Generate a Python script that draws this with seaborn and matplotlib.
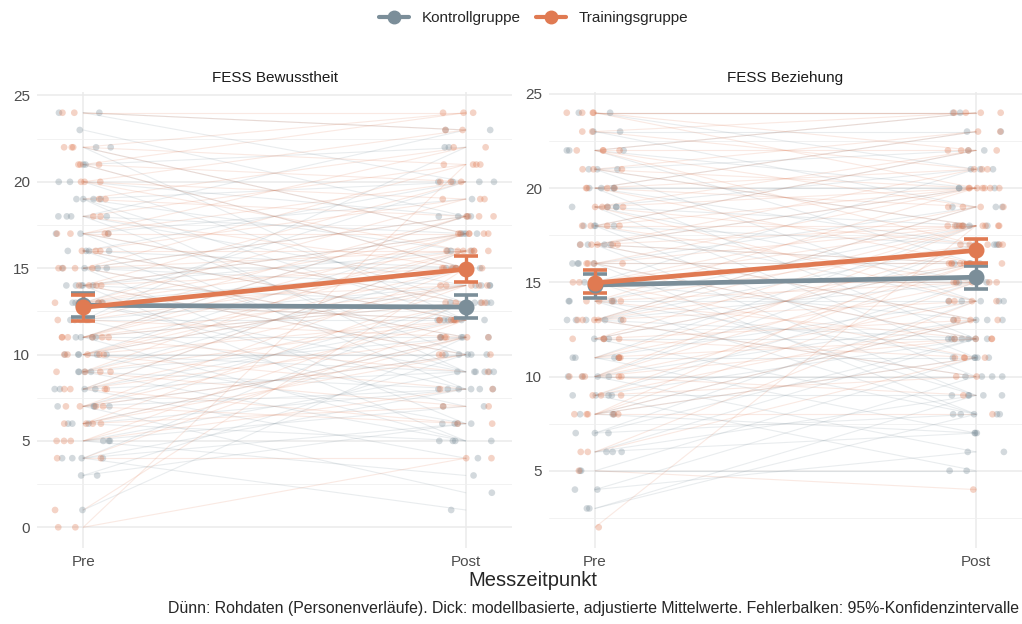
import numpy as np
import pandas as pd
import matplotlib
matplotlib.use('Agg')
from matplotlib import pyplot as plt
from matplotlib.lines import Line2D
from matplotlib.ticker import MultipleLocator
import seaborn as sns

sns.set_theme(style='white')
plt.rcParams['font.family'] = ['Liberation Sans', 'DejaVu Sans']

# Farben
col_kon = '#7B8E99'
col_tra = '#E07A52'
groups = ['Kontrollgruppe', 'Trainingsgruppe']
times = ['Pre', 'Post']

# Rohdaten FESS Bewusstheit (geschaetzt aus der Grafik)
bew_kon_pre = [24, 24, 23, 22, 22, 21, 21, 20, 20, 19, 19, 19, 19, 18, 18, 18, 18, 17, 17, 17,
               16, 16, 16, 16, 15, 15, 15, 15, 14, 14, 14, 14, 14, 13, 13, 13, 13, 13, 12, 12,
               12, 12, 11, 11, 11, 11, 10, 10, 10, 10, 10, 9, 9, 9, 9, 8, 8, 8, 8, 7,
               7, 7, 7, 6, 6, 6, 5, 5, 5, 4, 4, 4, 4, 3, 3, 1]
bew_kon_post = [23, 20, 18, 17, 12, 22, 15, 18, 13, 20, 16, 12, 9, 23, 17, 14, 10, 19, 13, 8,
                20, 15, 12, 9, 18, 14, 11, 6, 17, 16, 13, 10, 5, 20, 15, 12, 9, 8, 22, 14,
                12, 7, 18, 13, 11, 5, 17, 14, 10, 9, 6, 15, 11, 8, 5, 16, 12, 9, 4, 13,
                10, 8, 2, 11, 8, 5, 9, 7, 3, 13, 8, 6, 1, 10, 6, 11]
bew_tra_pre = [24, 24, 22, 22, 22, 21, 21, 21, 20, 20, 20, 19, 19, 18, 18, 17, 17, 17, 17, 16,
               16, 16, 15, 15, 15, 15, 14, 14, 14, 14, 13, 13, 13, 13, 13, 12, 12, 12, 11, 11,
               11, 11, 11, 11, 10, 10, 10, 10, 10, 9, 9, 9, 9, 8, 8, 8, 8, 7, 7, 7,
               7, 6, 6, 6, 6, 5, 5, 5, 4, 4, 1, 0, 0]
bew_tra_post = [24, 23, 24, 21, 17, 24, 20, 15, 23, 19, 16, 22, 18, 21, 15, 22, 20, 17, 13, 19,
                16, 12, 21, 18, 16, 11, 20, 17, 15, 10, 19, 17, 16, 14, 12, 18, 15, 11, 18, 17,
                16, 14, 13, 9, 16, 15, 14, 12, 8, 17, 14, 12, 7, 16, 13, 11, 6, 15, 12, 10,
                6, 14, 11, 10, 7, 13, 11, 8, 12, 4, 15, 4, 21]

# Rohdaten FESS Beziehung (geschaetzt aus der Grafik)
bez_kon_pre = [24, 24, 23, 23, 22, 22, 22, 21, 21, 21, 20, 20, 20, 20, 19, 19, 19, 19, 18, 18,
               18, 18, 17, 17, 17, 17, 16, 16, 16, 16, 15, 15, 15, 15, 14, 14, 14, 14, 13, 13,
               13, 13, 13, 12, 12, 12, 11, 11, 11, 11, 10, 10, 10, 10, 9, 9, 9, 9, 8, 8,
               8, 7, 7, 7, 6, 6, 6, 5, 5, 4, 4, 3, 3]
bez_kon_post = [24, 21, 23, 19, 24, 20, 16, 22, 18, 14, 23, 20, 17, 12, 21, 18, 15, 11, 22, 17,
                14, 10, 20, 16, 13, 9, 19, 16, 12, 8, 21, 15, 13, 9, 18, 14, 11, 8, 19, 17,
                15, 12, 10, 16, 12, 8, 18, 14, 11, 7, 17, 13, 10, 6, 15, 12, 9, 5, 13, 11,
                7, 14, 12, 8, 12, 9, 7, 11, 5, 10, 6, 9, 8]
bez_tra_pre = [24, 24, 24, 24, 23, 23, 22, 22, 22, 22, 21, 21, 21, 20, 20, 20, 20, 19, 19, 19,
               19, 18, 18, 18, 18, 17, 17, 17, 17, 17, 16, 16, 16, 16, 15, 15, 15, 15, 14, 14,
               14, 14, 13, 13, 13, 13, 13, 12, 12, 12, 12, 11, 11, 11, 10, 10, 10, 10, 10, 9,
               9, 9, 8, 8, 8, 8, 8, 6, 6, 5, 2]
bez_tra_post = [24, 24, 22, 20, 24, 21, 24, 22, 19, 17, 23, 20, 18, 23, 21, 19, 16, 22, 20, 17,
                14, 22, 20, 18, 15, 21, 20, 18, 16, 13, 20, 18, 16, 12, 19, 18, 15, 11, 20, 17,
                15, 12, 19, 18, 16, 14, 10, 18, 16, 13, 11, 17, 15, 12, 18, 16, 14, 12, 9, 16,
                13, 10, 17, 15, 13, 11, 8, 14, 11, 4, 18]

# modellbasierte Mittelwerte und 95%-KI (Pre, Post)
bew_kon_mean = [12.85, 12.75]
bew_kon_lo = [12.15, 12.09]
bew_kon_hi = [13.55, 13.43]
bew_tra_mean = [12.73, 14.94]
bew_tra_lo = [11.95, 14.20]
bew_tra_hi = [13.45, 15.68]
bez_kon_mean = [14.86, 15.27]
bez_kon_lo = [14.15, 14.63]
bez_kon_hi = [15.43, 15.87]
bez_tra_mean = [14.97, 16.69]
bez_tra_lo = [14.41, 16.05]
bez_tra_hi = [15.65, 17.30]


def long_df(kon_pre, kon_post, tra_pre, tra_post):
    rows = []
    for g, pre, post in [(groups[0], kon_pre, kon_post), (groups[1], tra_pre, tra_post)]:
        for i, (a, b) in enumerate(zip(pre, post)):
            rows.append({'group': g, 'pid': f'{g}_{i}', 't': 1, 'value': a})
            rows.append({'group': g, 'pid': f'{g}_{i}', 't': 2, 'value': b})
    return pd.DataFrame(rows)


panels = [
    ('FESS Bewusstheit', long_df(bew_kon_pre, bew_kon_post, bew_tra_pre, bew_tra_post),
     [(bew_kon_mean, bew_kon_lo, bew_kon_hi), (bew_tra_mean, bew_tra_lo, bew_tra_hi)],
     (-1.2, 25.2), [0, 5, 10, 15, 20, 25]),
    ('FESS Beziehung', long_df(bez_kon_pre, bez_kon_post, bez_tra_pre, bez_tra_post),
     [(bez_kon_mean, bez_kon_lo, bez_kon_hi), (bez_tra_mean, bez_tra_lo, bez_tra_hi)],
     (0.9, 25.1), [5, 10, 15, 20, 25]),
]

palette = {groups[0]: col_kon, groups[1]: col_tra}
np.random.seed(7)

fig = plt.figure(figsize=(10.22, 6.24), dpi=100)
ax1 = fig.add_axes([37 / 1022, 1 - 548 / 624, 475 / 1022, 456 / 624])
ax2 = fig.add_axes([549 / 1022, 1 - 548 / 624, 473 / 1022, 456 / 624])

for ax, (title, df, means, ylim, yticks) in zip([ax1, ax2], panels):
    # duenne Personenverlaeufe
    sns.lineplot(data=df, x='t', y='value', hue='group', units='pid', estimator=None,
                 palette=palette, hue_order=groups, alpha=0.16, linewidth=0.8,
                 legend=False, ax=ax, zorder=1)
    # Rohpunkte mit Jitter
    sns.stripplot(data=df, x='t', y='value', hue='group', hue_order=groups, palette=palette,
                  native_scale=True, jitter=0.075, size=4.8, alpha=0.33, linewidth=0,
                  legend=False, ax=ax, zorder=2)
    # adjustierte Mittelwerte mit KI
    for (m, lo, hi), g in zip(means, groups):
        yerr = [np.array(m) - np.array(lo), np.array(hi) - np.array(m)]
        ax.errorbar([1, 2], m, yerr=yerr, color=palette[g], lw=3.4, marker='o', ms=10.5,
                    capsize=8.5, capthick=2.6, elinewidth=2.4, zorder=5)

    ax.set_xlim(0.879, 2.121)
    ax.set_ylim(*ylim)
    ax.set_xticks([1, 2])
    ax.set_xticklabels(times)
    ax.set_yticks(yticks)
    ax.yaxis.set_minor_locator(MultipleLocator(2.5))
    ax.set_xlabel('')
    ax.set_ylabel('')
    ax.set_title(title, fontsize=11, color='#1A1A1A', pad=7)
    ax.grid(True, which='major', color='#EBEBEB', lw=1.1)
    ax.grid(True, which='minor', axis='y', color='#F0F0F0', lw=0.6)
    ax.set_axisbelow(True)
    ax.tick_params(which='both', length=0, labelsize=11, labelcolor='#4D4D4D', pad=5)
    for s in ax.spines.values():
        s.set_visible(False)

handles = [Line2D([], [], color=col_kon, lw=3, marker='o', ms=9),
           Line2D([], [], color=col_tra, lw=3, marker='o', ms=9)]
fig.legend(handles, groups, loc='center', bbox_to_anchor=(0.522, 1 - 18 / 624), ncol=2,
           frameon=False, fontsize=11, handlelength=2.0, columnspacing=1.0, handletextpad=0.8)

fig.text(533 / 1022, 1 - 580 / 624, 'Messzeitpunkt', ha='center', va='center', fontsize=14.5)
fig.text(1019 / 1022, 1 - 608 / 624,
         'Dünn: Rohdaten (Personenverläufe). Dick: modellbasierte, adjustierte Mittelwerte. '
         'Fehlerbalken: 95%-Konfidenzintervalle', ha='right', va='center', fontsize=11.4)

fig.savefig('out.png', dpi=100)
